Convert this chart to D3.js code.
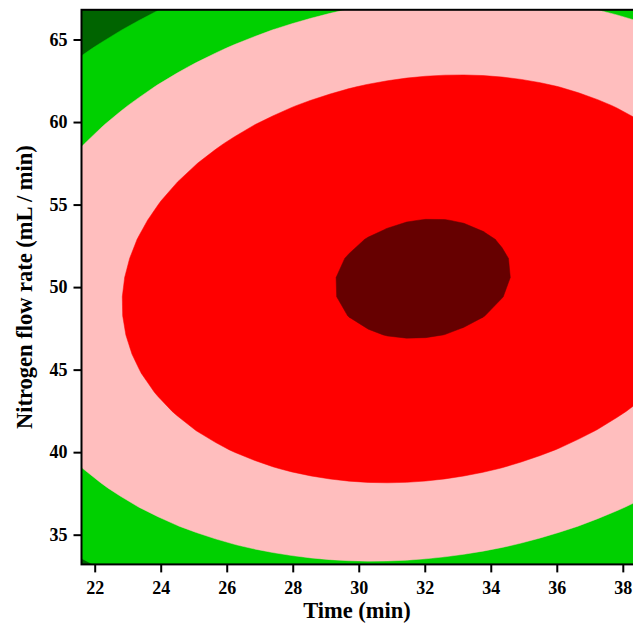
<!DOCTYPE html>
<html>
<head>
<meta charset="utf-8">
<script src="https://cdn.jsdelivr.net/npm/d3@7"></script>
<style>
  html, body { margin: 0; padding: 0; background: #fff; }
  svg { display: block; }
  .axis text { font-family: "Liberation Serif", "Times New Roman", serif; font-weight: bold; font-size: 18px; fill: #000; }
  .axis path, .axis line { stroke: #000; stroke-width: 2px; }
  .title { font-family: "Liberation Serif", "Times New Roman", serif; font-weight: bold; font-size: 22.5px; fill: #000; }
</style>
</head>
<body>
<svg id="chart" width="633" height="630"></svg>
<script>
// Factor ranges (star points of the central composite design)
const timeRange = [21.6, 38.4];      // Time (min)
const flowRange = [33.2, 66.8];      // Nitrogen flow rate (mL / min)
const timeTicks = [22, 24, 26, 28, 30, 32, 34, 36, 38];
const flowTicks = [35, 40, 45, 50, 55, 60, 65];

// Coding of the factors: coded = (actual - centre) / step
const timeCoding = [30, 5];
const flowCoding = [50, 10];

// Fitted second-order model in coded factors A (time) and B (flow)
const modelTerms = ["Intercept", "A", "B", "A²", "B²", "AB"];
const modelCoefficients = [80.22, 1.27, 0.13, -1.67, -3.63, 0.60];

// Response levels separating the colour bands
const contourLevels = [65, 70, 75, 80];
// Band colours, lowest band first
const bandColors = ["#006400", "#00d000", "#ffbebe", "#ff0000", "#660000"];

const svg = d3.select("#chart");
const margin = { left: 81.5, right: -3, top: 9.8, bottom: 65.6 };
const W = +svg.attr("width"), H = +svg.attr("height");

const x = d3.scaleLinear().domain(timeRange).range([margin.left, W - margin.right]);
const y = d3.scaleLinear().domain(flowRange).range([H - margin.bottom, margin.top]);

// Predicted response from the fitted model
const coef = Object.fromEntries(modelTerms.map((t, i) => [t, modelCoefficients[i]]));
function predict(time, flow) {
  const a = (time - timeCoding[0]) / timeCoding[1];
  const b = (flow - flowCoding[0]) / flowCoding[1];
  return coef["Intercept"] + coef["A"] * a + coef["B"] * b +
         coef["A²"] * a * a + coef["B²"] * b * b + coef["AB"] * a * b;
}

// Evaluate the model over the design region
const nx = 30, ny = 30;
const dt = (timeRange[1] - timeRange[0]) / (nx - 1);
const df = (flowRange[1] - flowRange[0]) / (ny - 1);
const grid = new Array(nx * ny);
for (let j = 0; j < ny; j++) {
  for (let i = 0; i < nx; i++) {
    grid[j * nx + i] = predict(timeRange[0] + i * dt, flowRange[0] + j * df);
  }
}

const contours = d3.contours().size([nx, ny]).thresholds(contourLevels)(grid);

// Grid coordinates -> screen coordinates (samples sit at cell centres)
const gridToScreen = d3.geoTransform({
  point: function (gx, gy) {
    this.stream.point(x(timeRange[0] + (gx - 0.5) * dt), y(flowRange[0] + (gy - 0.5) * df));
  }
});
const path = d3.geoPath(gridToScreen);

const x0 = x(timeRange[0]), x1 = x(timeRange[1]);
const y0 = y(flowRange[1]), y1 = y(flowRange[0]);

svg.append("defs").append("clipPath").attr("id", "plot-clip")
  .append("rect").attr("x", x0).attr("y", y0).attr("width", x1 - x0).attr("height", y1 - y0);

const plot = svg.append("g").attr("clip-path", "url(#plot-clip)");

// Lowest band as the background, higher bands stacked on top
plot.append("rect").attr("x", x0).attr("y", y0).attr("width", x1 - x0).attr("height", y1 - y0)
  .attr("fill", bandColors[0]);

plot.selectAll("path.band")
  .data(contours)
  .join("path")
  .attr("class", "band")
  .attr("d", path)
  .attr("fill", (d, i) => bandColors[i + 1])
  .attr("stroke", (d, i) => bandColors[i + 1])
  .attr("stroke-width", 0.5);

// Frame around the plot
svg.append("rect").attr("x", x0).attr("y", y0).attr("width", x1 - x0).attr("height", y1 - y0)
  .attr("fill", "none").attr("stroke", "#000").attr("stroke-width", 2);

// Axes
svg.append("g").attr("class", "axis")
  .attr("transform", `translate(0,${y1})`)
  .call(d3.axisBottom(x).tickValues(timeTicks).tickSize(8).tickSizeOuter(0).tickPadding(8.5).tickFormat(d3.format("d")))
  .call(g => g.select(".domain").remove());

svg.append("g").attr("class", "axis")
  .attr("transform", `translate(${x0},0)`)
  .call(d3.axisLeft(y).tickValues(flowTicks).tickSize(8).tickSizeOuter(0).tickPadding(6).tickFormat(d3.format("d")))
  .call(g => g.select(".domain").remove());

// Axis titles
svg.append("text").attr("class", "title")
  .attr("x", 357).attr("y", 618)
  .attr("text-anchor", "middle")
  .text("Time (min)");

svg.append("text").attr("class", "title")
  .attr("transform", `translate(32,${(y0 + y1) / 2}) rotate(-90)`)
  .attr("text-anchor", "middle")
  .text("Nitrogen flow rate (mL / min)");
</script>
</body>
</html>
